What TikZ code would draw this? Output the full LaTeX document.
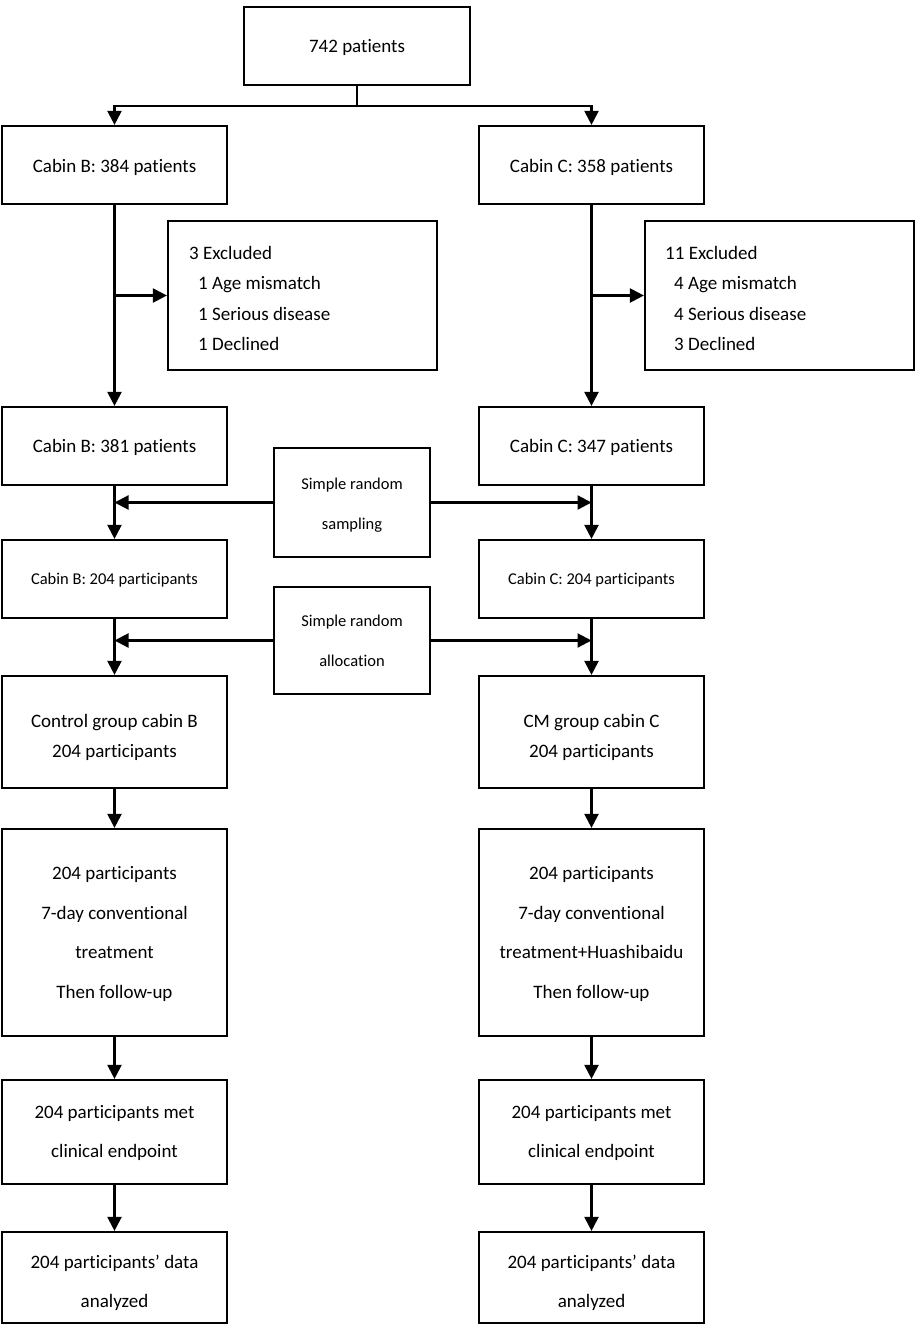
\documentclass[tikz,border=0pt]{standalone}
\usepackage{fontspec}
\setmainfont{Carlito}[Ligatures=NoCommon]
\usetikzlibrary{arrows.meta}
\newcommand\mytc[1]{\begin{tabular}{@{}c@{}}#1\end{tabular}}
\newcommand\mytl[1]{\begin{tabular}{@{}l@{}}#1\end{tabular}}
\begin{document}
\begin{tikzpicture}[x=1pt,y=-1pt,
  frame/.style={draw,line width=2.2pt,inner sep=0pt},
  colbox/.style={frame,minimum width=225pt},
  exbox/.style={frame,minimum width=269pt,minimum height=149pt},
  rbox/.style={frame,minimum width=156pt},
  txt/.style={inner sep=0pt,font=\fontsize{19}{30}\selectfont},
  txtw/.style={inner sep=0pt,font=\fontsize{19}{39.5}\selectfont},
  txts/.style={inner sep=0pt,font=\fontsize{16.5}{30}\selectfont},
  txtsw/.style={inner sep=0pt,font=\fontsize{16.5}{40}\selectfont},
  txtx/.style={inner sep=0pt,anchor=west,font=\fontsize{19}{30.5}\selectfont},
  conn/.style={line width=2.2pt},
  arr/.style={line width=2.2pt,-{Triangle[width=14pt,length=14pt]}}
]
\useasboundingbox (0,0) rectangle (923,1339);
\fill[white] (0,0) rectangle (923,1339);

% boxes
\node[frame,minimum width=226pt,minimum height=78pt] (top) at (357,46) {};
\node[colbox,minimum height=78pt] (b1) at (114.5,165) {};
\node[colbox,minimum height=78pt] (c1) at (591.5,165) {};
\node[exbox] (ex1) at (302.5,295.5) {};
\node[exbox] (ex2) at (779.5,295.5) {};
\node[colbox,minimum height=78pt] (b2) at (114.5,446) {};
\node[colbox,minimum height=78pt] (c2) at (591.5,446) {};
\node[rbox,minimum height=109pt] (samp) at (352,502.5) {};
\node[colbox,minimum height=78pt] (b3) at (114.5,579) {};
\node[colbox,minimum height=78pt] (c3) at (591.5,579) {};
\node[rbox,minimum height=107pt] (alloc) at (352,640.5) {};
\node[colbox,minimum height=112pt] (b4) at (114.5,732) {};
\node[colbox,minimum height=112pt] (c4) at (591.5,732) {};
\node[colbox,minimum height=207pt] (b5) at (114.5,932.5) {};
\node[colbox,minimum height=207pt] (c5) at (591.5,932.5) {};
\node[colbox,minimum height=104pt] (b6) at (114.5,1132) {};
\node[colbox,minimum height=104pt] (c6) at (591.5,1132) {};
\node[colbox,minimum height=91pt] (b7) at (114.5,1277.5) {};
\node[colbox,minimum height=91pt] (c7) at (591.5,1277.5) {};

% texts
\node[txt] (topt) at (357,47) {742 patients};
\node[txt] (b1t) at (114.5,167) {Cabin B: 384 patients};
\node[txt] (c1t) at (591.5,167) {Cabin C: 358 patients};
\node[txtx] (ex1t) at (189,299) {\mytl{3 Excluded\\\hspace*{9pt}1 Age mismatch\\\hspace*{9pt}1 Serious disease\\\hspace*{9pt}1 Declined}};
\node[txtx] (ex2t) at (665,299) {\mytl{11 Excluded\\\hspace*{9pt}4 Age mismatch\\\hspace*{9pt}4 Serious disease\\\hspace*{9pt}3 Declined}};
\node[txt] (b2t) at (114.5,447) {Cabin B: 381 patients};
\node[txt] (c2t) at (591.5,447) {Cabin C: 347 patients};
\node[txtsw] (sampt) at (352,501) {\mytc{Simple random\\sampling}};
\node[txts] (b3t) at (114.5,580) {Cabin B: 204 participants};
\node[txts] (c3t) at (591.5,580) {Cabin C: 204 participants};
\node[txtsw] (alloct) at (352,638.5) {\mytc{Simple random\\allocation}};
\node[txt] (b4t) at (114.5,736) {\mytc{Control group cabin B\\204 participants}};
\node[txt] (c4t) at (591.5,736) {\mytc{CM group cabin C\\204 participants}};
\node[txtw] (b5t) at (114.5,931) {\mytc{204 participants\\7-day conventional\\treatment\\Then follow-up}};
\node[txtw] (c5t) at (591.5,931) {\mytc{204 participants\\7-day conventional\\treatment+Huashibaidu\\Then follow-up}};
\node[txtw] (b6t) at (114.5,1130) {\mytc{204 participants met\\clinical endpoint}};
\node[txtw] (c6t) at (591.5,1130) {\mytc{204 participants met\\clinical endpoint}};
\node[txtw] (b7t) at (114.5,1280) {\mytc{204 participants’ data\\analyzed}};
\node[txtw] (c7t) at (591.5,1280) {\mytc{204 participants’ data\\analyzed}};

% connectors
\coordinate (j) at (357,106);
\draw[conn] (top.south) -- (j);
\draw[arr] (j) -| (b1.north);
\draw[arr] (j) -| (c1.north);

\draw[arr] (b1) -- (b2);
\draw[arr] (c1) -- (c2);
\coordinate (bx) at (b1.south |- ex1.west);
\coordinate (cx) at (c1.south |- ex2.west);
\draw[arr] (bx) -- (ex1.west);
\draw[arr] (cx) -- (ex2.west);

\draw[arr] (b2) -- (b3);
\draw[arr] (c2) -- (c3);
\draw[arr] (samp.west) -- (samp.west -| b2.south);
\draw[arr] (samp.east) -- (samp.east -| c2.south);

\draw[arr] (b3) -- (b4);
\draw[arr] (c3) -- (c4);
\draw[arr] (alloc.west) -- (alloc.west -| b3.south);
\draw[arr] (alloc.east) -- (alloc.east -| c3.south);

\draw[arr] (b4) -- (b5);
\draw[arr] (c4) -- (c5);
\draw[arr] (b5) -- (b6);
\draw[arr] (c5) -- (c6);
\draw[arr] (b6) -- (b7);
\draw[arr] (c6) -- (c7);
\end{tikzpicture}
\end{document}
